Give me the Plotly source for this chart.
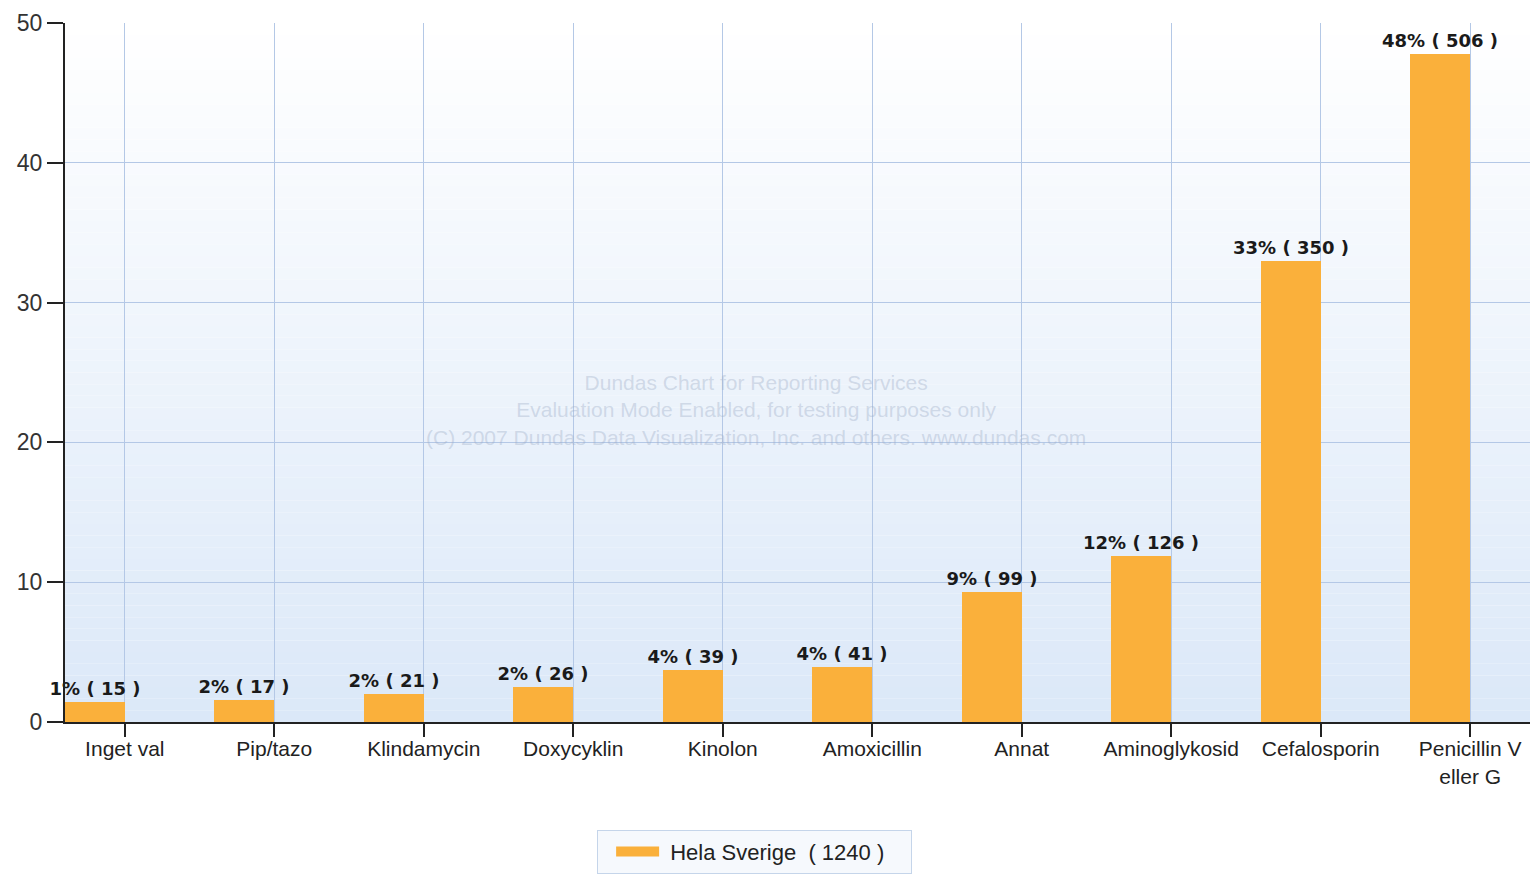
import plotly.graph_objects as go

categories = ["Inget val", "Pip/tazo", "Klindamycin", "Doxycyklin", "Kinolon",
              "Amoxicillin", "Annat", "Aminoglykosid", "Cefalosporin",
              "Penicillin V<br>eller G"]
percent_values = [1.4, 1.6, 2.0, 2.5, 3.7, 3.9, 9.3, 11.9, 33.0, 47.8]
percent_labels = [1, 2, 2, 2, 4, 4, 9, 12, 33, 48]
counts = [15, 17, 21, 26, 39, 41, 99, 126, 350, 506]
series_name = "Hela Sverige  ( 1240 )"
y_ticks = [0, 10, 20, 30, 40, 50]

BAR_COLOR = "#FAB03B"
bar_text = [f"{p}% ( {n} )" for p, n in zip(percent_labels, counts)]

fig = go.Figure()
fig.add_trace(go.Bar(
    x=categories,
    y=percent_values,
    name=series_name,
    legendgroup="s",
    text=bar_text,
    textposition="outside",
    constraintext="none",
    textfont=dict(family="DejaVu Sans", size=18, color="#1a1a1a", weight="bold"),
    marker=dict(color=BAR_COLOR, line=dict(width=0)),
    offset=-0.4,
    width=0.4,
    cliponaxis=False,
    showlegend=False,
))
# legend entry drawn as a wide swatch (same series)
fig.add_trace(go.Scatter(
    x=[None], y=[None], mode="lines", name="&nbsp;" + series_name, legendgroup="s",
    line=dict(color=BAR_COLOR, width=16), showlegend=True, hoverinfo="skip",
))

# vertical gradient background of the plot area (white at top, light blue at bottom)
N = 60
shapes = []
top = (255, 255, 255)
bottom = (219, 232, 248)
for i in range(N):
    t = (i + 0.5) / N
    c = tuple(round(bottom[k] + (top[k] - bottom[k]) * t) for k in range(3))
    shapes.append(dict(type="rect", xref="x domain", yref="y domain",
                       x0=0, x1=1, y0=i / N, y1=(i + 1) / N,
                       fillcolor=f"rgb{c}", line=dict(width=0), layer="below"))

watermark = ("Dundas Chart for Reporting Services<br>"
             "Evaluation Mode Enabled, for testing purposes only<br>"
             "(C) 2007 Dundas Data Visualization, Inc. and others. www.dundas.com")

fig.update_layout(
    width=1534, height=878,
    margin=dict(l=65, r=4, t=23, b=156),
    paper_bgcolor="white",
    plot_bgcolor="white",
    shapes=shapes,
    bargap=0,
    font=dict(family="Liberation Sans", size=20, color="#222222"),
    xaxis=dict(
        type="category",
        range=[-0.4, 9.4],
        showgrid=True, gridcolor="#b4c8e6", gridwidth=1,
        showline=True, linecolor="#222222", linewidth=2,
        ticks="outside", ticklen=13, tickcolor="#222222", tickwidth=2,
        tickfont=dict(family="Liberation Sans", size=21, color="#222222"),
        ticklabelstandoff=-6,
        tickangle=0,
    ),
    yaxis=dict(
        range=[0, 50],
        tickvals=y_ticks,
        showgrid=True, gridcolor="#b4c8e6", gridwidth=1,
        showline=True, linecolor="#222222", linewidth=2,
        ticks="outside", ticklen=16, tickcolor="#222222", tickwidth=2,
        tickfont=dict(family="Liberation Sans", size=23, color="#333333"),
        zeroline=False,
    ),
    legend=dict(
        orientation="h",
        xref="container", x=0.492, xanchor="center",
        yref="container", y=0.055, yanchor="top",
        bgcolor="#f6f9fd",
        bordercolor="#c5d5ea", borderwidth=1,
        font=dict(family="Liberation Sans", size=22, color="#222222"),
        title=dict(text="&nbsp;", side="left", font=dict(size=14)),
        entrywidth=242,
        itemwidth=43,
    ),
    annotations=[dict(
        text=watermark, xref="paper", yref="paper", x=0.472, y=0.446,
        showarrow=False, align="center",
        font=dict(family="Liberation Sans", size=21, color="rgba(160,175,200,0.4)"),
    )],
)

fig.write_html("out.html", config={"displayModeBar": False},
               post_script="document.body.style.margin='0';document.body.style.overflow='hidden';")
